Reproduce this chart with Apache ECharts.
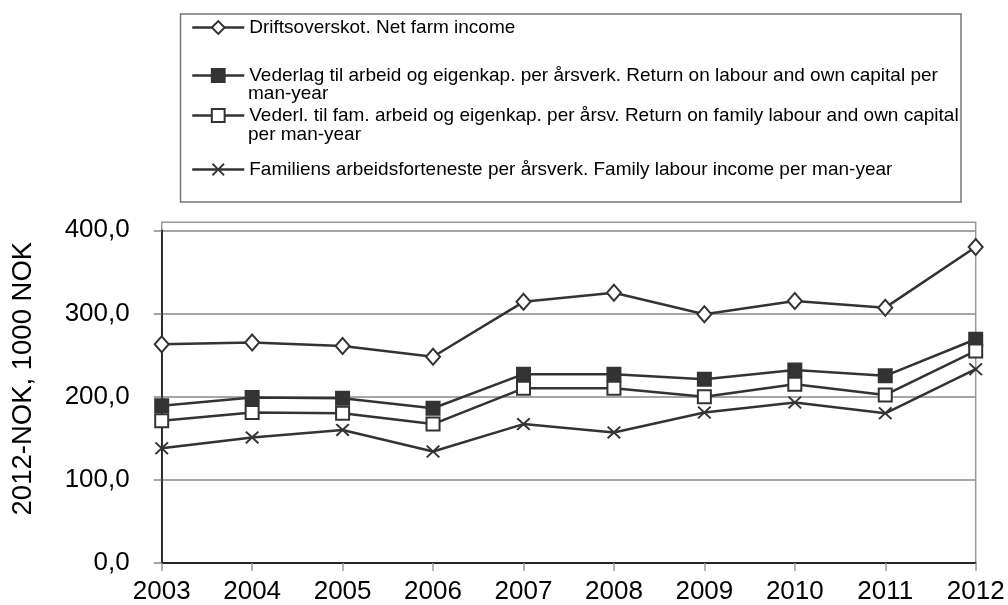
<!DOCTYPE html>
<html>
<head>
<meta charset="utf-8">
<script src="https://cdn.jsdelivr.net/npm/echarts@6/dist/echarts.min.js"></script>
<style>
  html, body { margin: 0; padding: 0; background: #fff; }
  #chart { width: 1008px; height: 605px; }
</style>
</head>
<body>
<div id="chart"></div>
<script>
// data (2012-NOK, 1000 NOK)
var years = ["2003", "2004", "2005", "2006", "2007", "2008", "2009", "2010", "2011", "2012"];
var netFarmIncome = [263, 265, 261, 248, 314, 325, 299, 315, 307, 380];
var returnLabourCapital = [189, 199, 198, 186, 227, 227, 221, 232, 225, 269];
var returnFamilyLabour = [171, 181, 180, 167, 210, 210, 200, 215, 202, 255];
var familyLabourIncome = [138, 151, 160, 134, 167, 157, 181, 193, 180, 233];
var yTicks = [0, 100, 200, 300, 400];

var names = [
  "Driftsoverskot. Net farm income",
  "Vederlag til arbeid og eigenkap. per årsverk. Return on labour and own capital per",
  "Vederl. til fam. arbeid og eigenkap. per årsv. Return on family labour and own capital",
  "Familiens arbeidsforteneste per årsverk. Family labour income per man-year"
];

var font = "'Liberation Sans', Arial, sans-serif";
var lineCol = "#333";
var xPath = "path://M0,1L1,0L5,4L9,0L10,1L6,5L10,9L9,10L5,6L1,10L0,9L4,5Z";

function makeSeries(name, data, symbol, fill, size) {
  return {
    name: name,
    type: "line",
    data: data,
    symbol: symbol,
    symbolSize: size,
    showAllSymbol: true,
    lineStyle: { color: lineCol, width: 2.5 },
    itemStyle: { color: fill, borderColor: lineCol, borderWidth: symbol === xPath ? 0 : 2 },
    emphasis: { disabled: true },
    animation: false
  };
}

function legendAt(name, centerY) {
  return {
    data: [name],
    left: 191,
    top: centerY - 10,
    padding: 0,
    itemWidth: 52,
    itemHeight: 16,
    selectedMode: false,
    lineStyle: { color: lineCol, width: 2.5 },
    textStyle: { fontFamily: font, fontSize: 19, color: "#000" }
  };
}

var chart = echarts.init(document.getElementById("chart"));
chart.setOption({
  backgroundColor: "#fff",
  animation: false,
  legend: [
    legendAt(names[0], 28),
    legendAt(names[1], 76),
    legendAt(names[2], 116),
    legendAt(names[3], 170)
  ],
  graphic: [
    { type: "rect", shape: { x: 180.5, y: 14, width: 780.5, height: 188 },
      style: { fill: "none", stroke: "#777", lineWidth: 1.5 }, silent: true, z: 0 },
    { type: "text", left: 248, top: 84, style: { text: "man-year", fontFamily: font, fontSize: 19, fill: "#000" } },
    { type: "text", left: 248, top: 125, style: { text: "per man-year", fontFamily: font, fontSize: 19, fill: "#000" } },
    { type: "rect", shape: { x: 161.7, y: 222.3, width: 814, height: 341 },
      style: { fill: "none", stroke: "#999", lineWidth: 1.5 }, silent: true, z: 0 }
  ],
  grid: { left: 161.7, right: 32.3, top: 230.3, bottom: 41.7 },
  xAxis: {
    type: "category",
    data: years,
    boundaryGap: false,
    axisLine: { lineStyle: { color: "#000", width: 1.5 } },
    axisTick: { show: true, alignWithLabel: true, length: 8, lineStyle: { color: "#999", width: 1.5 } },
    axisLabel: { fontFamily: font, fontSize: 26, color: "#000", margin: 16 },
    splitLine: { show: false }
  },
  yAxis: {
    type: "value",
    min: yTicks[0],
    max: yTicks[yTicks.length - 1],
    interval: 100,
    name: "2012-NOK, 1000 NOK",
    nameLocation: "middle",
    nameGap: 124,
    nameTextStyle: { fontFamily: font, fontSize: 27.5, color: "#000", padding: [0, 0, 0, 36] },
    axisLine: { show: true, lineStyle: { color: "#000", width: 1.5 } },
    axisTick: { show: true, length: 8, lineStyle: { color: "#888", width: 1.5 } },
    axisLabel: {
      fontFamily: font, fontSize: 26, color: "#000", margin: 32,
      formatter: function (v) { return v.toFixed(1).replace(".", ","); }
    },
    splitLine: { show: true, lineStyle: { color: "#888", width: 1.5 } }
  },
  series: [
    makeSeries(names[0], netFarmIncome, "diamond", "#fff", [14, 16]),
    makeSeries(names[1], returnLabourCapital, "rect", "#333", 13),
    makeSeries(names[2], returnFamilyLabour, "rect", "#fff", 13),
    makeSeries(names[3], familyLabourIncome, xPath, "#333", [14, 13])
  ]
});
</script>
</body>
</html>
